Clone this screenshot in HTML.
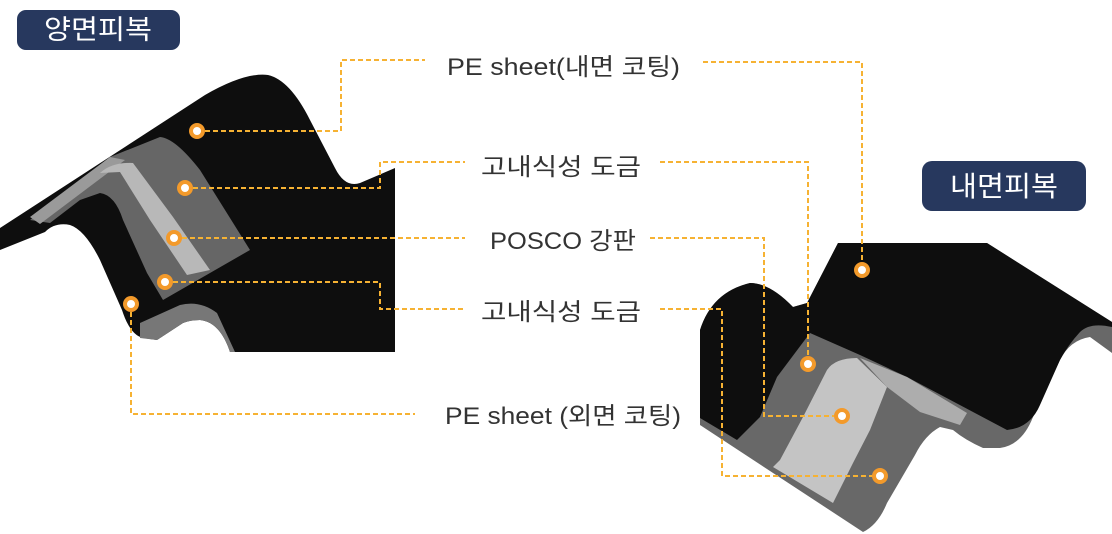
<!DOCTYPE html>
<html><head><meta charset="utf-8"><style>
html,body{margin:0;padding:0;background:#fff;width:1112px;height:534px;overflow:hidden}
svg{display:block}
text{font-family:"Liberation Sans","Noto Sans CJK KR",sans-serif}
</style></head><body>
<svg width="1112" height="534" viewBox="0 0 1112 534" xmlns="http://www.w3.org/2000/svg">
<!-- badges -->
<rect x="17" y="10" width="163" height="40" rx="9" fill="#27385e"/>
<text x="98" y="39" font-size="27" fill="#fff" text-anchor="middle" textLength="108" lengthAdjust="spacingAndGlyphs">양면피복</text>
<rect x="922" y="161" width="164" height="50" rx="10" fill="#27385e"/>
<text x="1004" y="196" font-size="28" fill="#fff" text-anchor="middle" textLength="108" lengthAdjust="spacingAndGlyphs">내면피복</text>

<!-- left sheet -->
<path d="M0,228 L205,95 Q245,72 268,75 Q290,80 310,120 L335,168 Q345,188 360,183 L395,168 L395,352 L230,352 Q220,322 200,320 Q190,320 183,323 L157,340 L143,338 Q130,335 122,310 L100,260 Q85,230 70,225 Q55,222 45,232 L0,250 Z" fill="#0e0e0e"/>
<path d="M30,220 L110,157 L160,137 Q175,138 200,170 L250,250 L163,300 L147,273 L123,220 Q115,195 100,193 L80,200 L50,223 Z" fill="#666"/>
<path d="M30,217 L110,157 L125,160 L40,224 Z" fill="#9a9a9a"/>
<path d="M100,173 Q112,162 133,163 L173,217 L210,270 L187,275 L150,220 L120,172 Z" fill="#b8b8b8"/>
<path d="M140,323 L180,305 Q200,300 217,313 L235,352 L230,352 Q220,322 200,320 Q190,320 183,323 L157,340 L140,338 Z" fill="#777"/>

<!-- right sheet -->
<path d="M700,425 L700,330 Q712,292 750,283 Q770,283 793,307 L807,303 L838,243 L987,243 L1112,322 L1112,353 L1090,337 Q1070,340 1060,360 L1033,417 Q1022,445 1000,448 L983,448 Q965,440 953,430 L940,427 Q925,435 915,455 L887,503 Q878,525 863,532 Z" fill="#686868"/>
<path d="M807,303 L838,243 L987,243 L1112,322 L1112,327 Q1090,322 1080,332 Q1068,345 1060,360 L1040,405 Q1030,428 1007,430 L907,377 L860,355 L810,333 Z" fill="#0e0e0e"/>
<path d="M700,330 Q712,292 750,283 Q770,283 793,307 L807,303 L810,333 L777,377 L760,417 L737,440 L700,418 Z" fill="#0e0e0e"/>
<path d="M827,370 Q835,358 857,358 L887,387 L870,430 L853,463 L833,503 L773,467 L780,460 L803,417 Z" fill="#c4c4c4"/>
<path d="M860,358 L907,377 L967,413 L960,425 L920,412 L887,387 Z" fill="#adadad"/>

<!-- connectors -->
<g fill="none" stroke="#f6b233" stroke-width="2" stroke-dasharray="5,3">
<path d="M197,131 H341 V60 H425"/>
<path d="M703,62 H862 V270"/>
<path d="M185,188 H380 V162 H465"/>
<path d="M660,162 H808 V364"/>
<path d="M174,238 H465"/>
<path d="M650,238 H764 V416 H842"/>
<path d="M165,282 H380 V309 H465"/>
<path d="M660,309 H722 V476 H880"/>
<path d="M131,304 V414 H415"/>
</g>
<g fill="#fff" stroke="#f39a2b" stroke-width="4">
<circle cx="197" cy="131" r="6"/><circle cx="185" cy="188" r="6"/><circle cx="174" cy="238" r="6"/><circle cx="165" cy="282" r="6"/><circle cx="131" cy="304" r="6"/>
<circle cx="862" cy="270" r="6"/><circle cx="808" cy="364" r="6"/><circle cx="842" cy="416" r="6"/><circle cx="880" cy="476" r="6"/>
</g>

<!-- labels -->
<g font-size="24" fill="#333">
<text x="447" y="75" textLength="233" lengthAdjust="spacingAndGlyphs">PE sheet(내면 코팅)</text>
<text x="481" y="175" textLength="160" lengthAdjust="spacingAndGlyphs">고내식성 도금</text>
<text x="490" y="249" textLength="146" lengthAdjust="spacingAndGlyphs">POSCO 강판</text>
<text x="481" y="320" textLength="160" lengthAdjust="spacingAndGlyphs">고내식성 도금</text>
<text x="445" y="424" textLength="236" lengthAdjust="spacingAndGlyphs">PE sheet (외면 코팅)</text>
</g>
</svg>
</body></html>
